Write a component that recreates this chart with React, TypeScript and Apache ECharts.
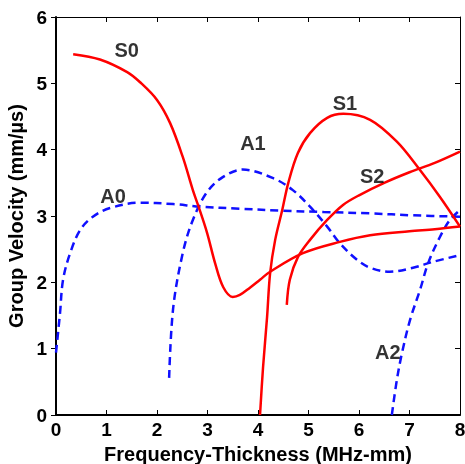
import React, { useEffect, useRef } from "react";
import * as echarts from "echarts";

const xTicks = [0, 1, 2, 3, 4, 5, 6, 7, 8];
const yTicks = [0, 1, 2, 3, 4, 5, 6];

const S0: number[][] = [[0.34,5.44],[0.87,5.36],[1.41,5.17],[1.66,5.02],[2.0,4.75],[2.26,4.4],[2.51,3.89],[2.71,3.39],[2.81,3.17],[2.99,2.75],[3.15,2.29],[3.31,1.93],[3.5,1.78],[3.64,1.81],[3.84,1.92],[4.04,2.04],[4.24,2.16],[4.89,2.44],[5.62,2.61],[6.22,2.71],[7.0,2.77],[7.5,2.8],[8,2.84]];
const S1: number[][] = [[4.04,0],[4.1,0.72],[4.18,1.48],[4.24,2.14],[4.34,2.64],[4.48,3.09],[4.6,3.5],[4.79,3.95],[5.03,4.25],[5.37,4.48],[5.69,4.54],[6.22,4.45],[6.75,4.12],[7.2,3.7],[7.6,3.29],[8,2.84]];
const S2: number[][] = [[4.57,1.66],[4.63,2.04],[4.79,2.38],[5.03,2.64],[5.37,2.94],[5.69,3.17],[6.02,3.32],[6.5,3.5],[7.0,3.66],[7.5,3.8],[8,3.97]];
const A0: number[][] = [[0,0.94],[0.08,1.54],[0.14,2.04],[0.28,2.44],[0.48,2.79],[0.73,2.99],[1.07,3.12],[1.66,3.2],[2.32,3.18],[2.85,3.14],[3.64,3.11],[4.5,3.08],[5.3,3.06],[6.22,3.04],[7.07,3.01],[8,2.99]];
const A1: number[][] = [[2.24,0.56],[2.32,1.61],[2.51,2.44],[2.71,2.94],[2.99,3.36],[3.31,3.59],[3.7,3.7],[4.3,3.57],[4.69,3.39],[5.03,3.14],[5.37,2.84],[5.62,2.59],[5.96,2.34],[6.22,2.22],[6.61,2.16],[7.07,2.22],[7.47,2.31],[8,2.41]];
const A2: number[][] = [[6.65,0.0],[6.75,0.53],[6.85,0.93],[7.01,1.43],[7.21,1.89],[7.37,2.29],[7.6,2.68],[7.8,2.94],[8,3.09]];

const modeLabels = ["S0", "A0", "A1", "S1", "S2", "A2"];
const labelPos: number[][] = [[1.4,5.5],[1.13,3.3],[3.9,4.1],[5.72,4.7],[6.26,3.6],[6.57,0.95]];

const FONT = "Liberation Sans, Arial, sans-serif";

export default function App() {
  const ref = useRef<HTMLDivElement>(null);
  useEffect(() => {
    if (!ref.current) return;
    const chart = echarts.init(ref.current, undefined, { renderer: "svg" });
    const red = "#ff0000";
    const blue = "#1010ff";
    const solid = (name: string, data: number[][]) => ({
      name, type: "line", data, showSymbol: false, smooth: 0.35,
      lineStyle: { color: red, width: 2.5 }, z: 3,
    });
    const dashed = (name: string, data: number[][]) => ({
      name, type: "line", data, showSymbol: false, smooth: 0.35,
      lineStyle: { color: blue, width: 2.5, type: [8, 5] }, z: 3,
    });
    chart.setOption({
      animation: false,
      grid: { left: 56, right: 5, top: 17, bottom: 49, containLabel: false, outerBoundsMode: "none" },
      xAxis: [
        {
          type: "value", min: 0, max: 8, interval: 1,
          name: "Frequency-Thickness (MHz-mm)", nameLocation: "middle", nameGap: 21,
          nameTextStyle: { fontFamily: FONT, fontWeight: "bold", fontSize: 20, color: "#000" },
          axisLine: { lineStyle: { color: "#000", width: 2 } },
          axisTick: { inside: true, length: 5, lineStyle: { color: "#000", width: 1 } },
          axisLabel: { fontFamily: FONT, fontWeight: "bold", fontSize: 19, color: "#000", margin: 5,
            formatter: (v: number) => (xTicks.includes(v) ? String(v) : "") },
          splitLine: { show: false },
        },
        {
          type: "value", min: 0, max: 8, interval: 1, position: "top",
          axisLine: { onZero: false, lineStyle: { color: "#000", width: 1 } },
          axisTick: { inside: true, length: 5, lineStyle: { color: "#000", width: 1 } },
          axisLabel: { show: false }, splitLine: { show: false },
        },
      ],
      yAxis: [
        {
          type: "value", min: 0, max: 6, interval: 1,
          name: "Group Velocity (mm/µs)", nameLocation: "middle", nameGap: 27, nameRotate: 90,
          nameTextStyle: { fontFamily: FONT, fontWeight: "bold", fontSize: 20, color: "#000" },
          axisLine: { lineStyle: { color: "#000", width: 2 } },
          axisTick: { inside: false, length: 5, lineStyle: { color: "#000", width: 1 } },
          axisLabel: { fontFamily: FONT, fontWeight: "bold", fontSize: 19, color: "#000", margin: 9,
            formatter: (v: number) => (yTicks.includes(v) ? String(v) : "") },
          splitLine: { show: false },
        },
        {
          type: "value", min: 0, max: 6, interval: 1, position: "right",
          axisLine: { show: true, onZero: false, lineStyle: { color: "#000", width: 1 } },
          axisTick: { show: true, inside: true, length: 5, lineStyle: { color: "#000", width: 1 } },
          axisLabel: { show: false }, splitLine: { show: false },
        },
      ],
      series: [
        dashed("A0", A0),
        dashed("A1", A1),
        dashed("A2", A2),
        solid("S0", S0),
        solid("S1", S1),
        solid("S2", S2),
        {
          name: "labels", type: "scatter", symbolSize: 0, z: 5,
          data: labelPos.map((p, i) => ({ value: p, name: modeLabels[i] })),
          label: {
            show: true, position: "inside", formatter: (p: any) => p.name,
            fontFamily: FONT, fontWeight: "bold", fontSize: 20, color: "#000",
          },
        },
      ],
    });
    return () => chart.dispose();
  }, []);
  return <div ref={ref} style={{ position: "fixed", left: 0, top: 0, width: 465, height: 464 }} />;
}
